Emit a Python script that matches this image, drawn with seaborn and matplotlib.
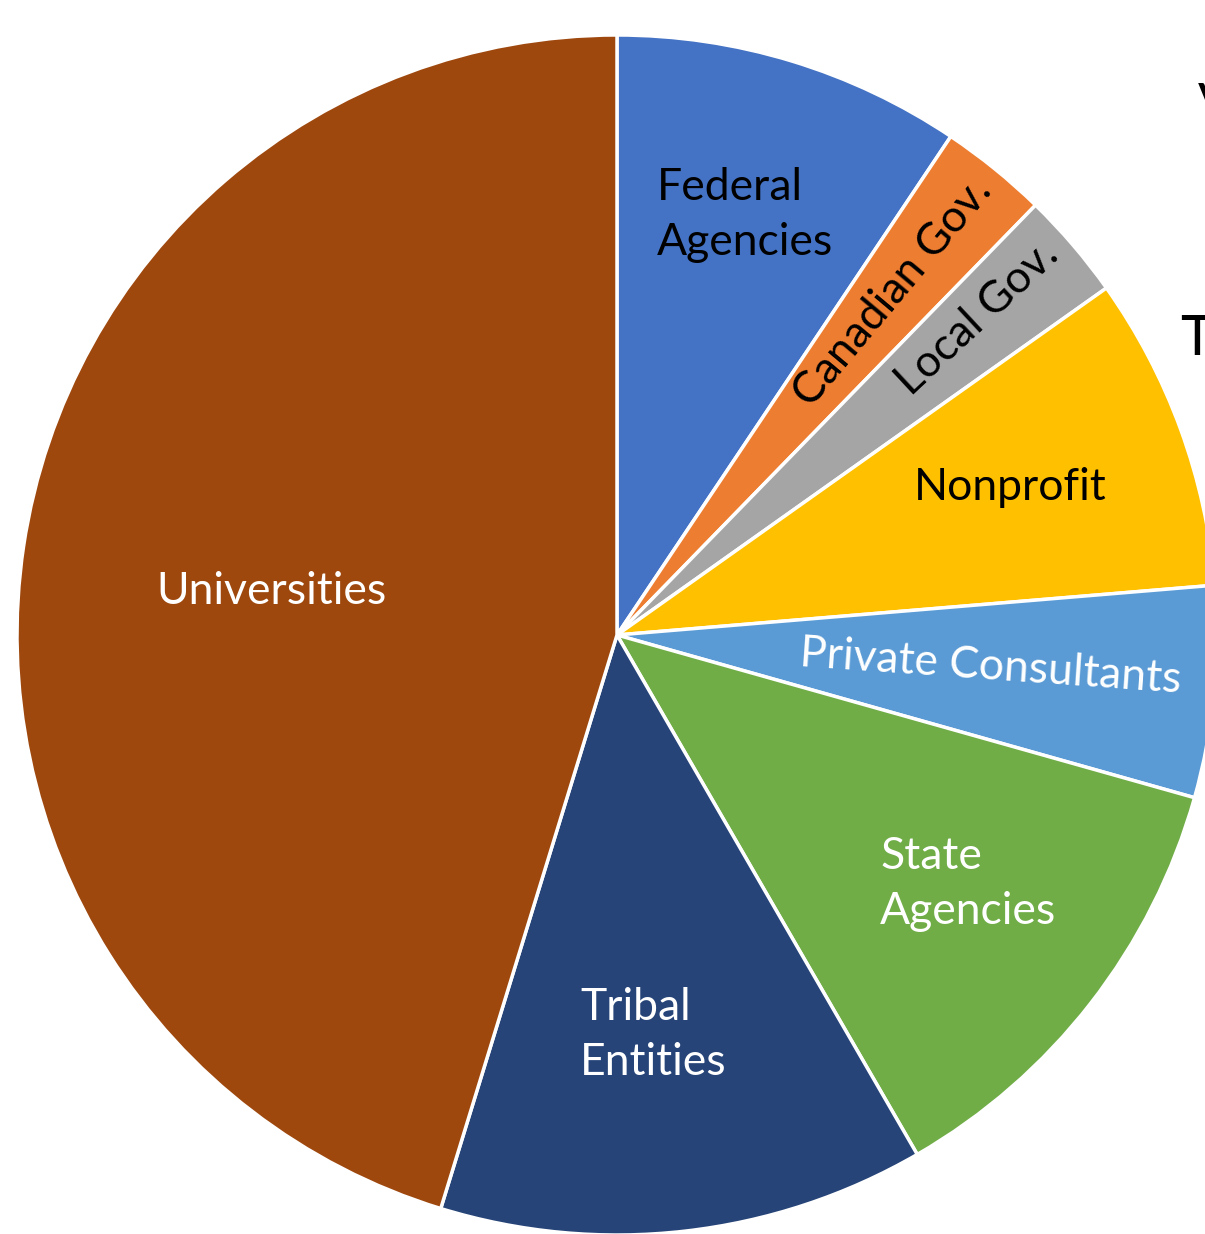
import matplotlib
matplotlib.use("Agg")
import matplotlib.pyplot as plt
import matplotlib.transforms as mtransforms
import seaborn as sns

# Shares of organisations (percent), clockwise from 12 o'clock
categories = ["Federal Agencies", "Canadian Gov.", "Local Gov.", "Nonprofit",
              "Private Consultants", "State Agencies", "Tribal Entities", "Universities"]
shares = [9.4, 2.9, 2.9, 8.5, 5.7, 12.3, 13.1, 45.3]
colors = ["#4472C4", "#ED7D31", "#A5A5A5", "#FFC000",
          "#5B9BD5", "#70AD47", "#264478", "#9E480E"]

sns.set_theme(style="white")
plt.rcParams["font.family"] = ["Lato", "DejaVu Sans"]

W, H = 1205, 1234
fig = plt.figure(figsize=(W / 100, H / 100), dpi=100)
ax = fig.add_axes([0, 0, 1, 1])

cx, cy, r = 617, 635, 600
wedges, _ = ax.pie(shares, colors=colors, startangle=90, counterclock=False,
                   center=(cx, cy), radius=r, frame=True,
                   wedgeprops=dict(edgecolor="white", linewidth=2.5))
# y axis runs top-down (pixel coords), so mirror the wedges about the centre
flip = mtransforms.Affine2D().translate(-cx, -cy).scale(1, -1).translate(cx, cy)
for w in wedges:
    w.set_transform(flip + ax.transData)
ax.set_xlim(0, W)
ax.set_ylim(H, 0)
ax.set_aspect("equal")
ax.axis("off")

fs = 32
ls = 1.45
ax.text(657, 215, "Federal\nAgencies", fontsize=fs, color="black", ha="left", va="center", linespacing=ls)
ax.text(893, 292, "Canadian Gov.", fontsize=fs, color="black", ha="center", va="center", rotation=50, rotation_mode="anchor")
ax.text(977, 318, "Local Gov.", fontsize=fs, color="black", ha="center", va="center", rotation=43, rotation_mode="anchor")
ax.text(1010, 488, "Nonprofit", fontsize=fs, color="black", ha="center", va="center")
ax.text(991, 667, "Private Consultants", fontsize=fs, color="white", ha="center", va="center", rotation=-4, rotation_mode="anchor")
ax.text(880, 884, "State\nAgencies", fontsize=fs, color="white", ha="left", va="center", linespacing=ls)
ax.text(580, 1035, "Tribal\nEntities", fontsize=fs, color="white", ha="left", va="center", linespacing=ls)
ax.text(271, 592, "Universities", fontsize=fs, color="white", ha="center", va="center")

# title letters that run off the right edge in the original
ax.text(1198, 82, "V", fontsize=40, color="black", ha="left", va="top")
ax.text(1180, 314, "T", fontsize=40, color="black", ha="left", va="top")

fig.savefig("out.png", dpi=100)
